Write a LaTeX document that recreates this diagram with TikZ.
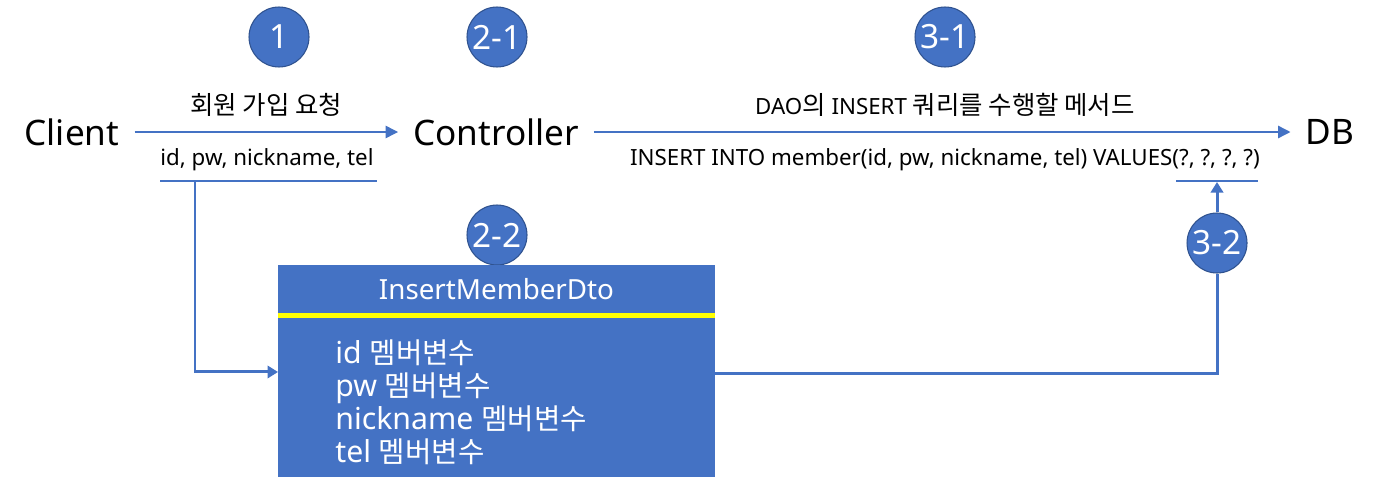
\documentclass[tikz,border=0pt]{standalone}
\usepackage{fontspec}
\setmainfont{Noto Sans}
\newfontfamily\kr[Scale=1.14]{Noto Sans CJK KR}
\newfontfamily\krfield[Scale=0.95]{Noto Sans CJK KR}
\usetikzlibrary{arrows.meta,positioning}
\definecolor{boxblue}{HTML}{4472C4}
\definecolor{ringblue}{HTML}{2F528F}
\definecolor{baryellow}{HTML}{FFFF00}

\tikzset{
  stepnum/.style={circle, fill=boxblue, draw=ringblue, line width=0.6pt, text=white,
    minimum size=1.2cm, inner sep=0pt, font=\fontsize{19}{22}\selectfont},
  actor/.style={font=\fontsize{20}{24}\selectfont, inner xsep=8.5pt, inner ysep=0pt},
  lbl/.style={font=\fontsize{12.7}{15}\selectfont, inner sep=0pt},
  flow/.style={boxblue, line width=0.8pt, -{Triangle[length=7pt,width=7pt]}},
  link/.style={boxblue, line width=1.7pt},
  dtopart/.style={fill=boxblue, text=white, minimum width=8.74cm, inner sep=0pt, outer sep=0pt},
}

\begin{document}
\begin{tikzpicture}[x=0.02cm, y=-0.02cm]
  \useasboundingbox (0,0) rectangle (1378,490);

  % main participants
  \node[actor] (client) at (72,132) {Client};
  \node[actor] (ctrl) at (496,132) {Controller};
  \node[actor] (db) at (1330,132) {DB};
  \draw[flow] (client) -- (ctrl);
  \draw[flow] (ctrl) -- (db);

  % step markers
  \node[stepnum] (s1) at (279,37) {1};
  \node[stepnum] (s21) at (497,37) {2-1};
  \node[stepnum] (s31) at (945,37) {3-1};
  \node[stepnum] (s22) at (497,235) {2-2};
  \node[stepnum] (s32) at (1217,243) {3-2};

  % arrow labels
  \node[lbl] (req) at (266,105) {\kr 회원 가입 요청};
  \node[lbl] (params) at (267,160) {id, pw, nickname, tel};
  \node[lbl] (method) at (945,105) {DAO{\kr 의} INSERT {\kr 쿼리를 수행할 메서드}};
  \node[lbl] (query) at (945,160) {INSERT INTO member(id, pw, nickname, tel) VALUES(?, ?, ?, ?)};

  % dto box
  \node[dtopart, minimum height=0.96cm, font=\fontsize{15.8}{18}\selectfont] (dtohead) at (496.5,289) {InsertMemberDto};
  \node[fill=baryellow, minimum width=8.74cm, minimum height=0.1cm, inner sep=0pt, outer sep=0pt,
    below=0pt of dtohead] (bar) {};
  \node[dtopart, minimum height=3.18cm, below=0pt of bar] (dtobody) {};
  \node[anchor=west, text=white, align=left, inner sep=0pt,
    font=\fontsize{17.2}{18.7}\selectfont] (fields) at (335,402)
    {id {\krfield 멤버변수}\\pw {\krfield 멤버변수}\\nickname {\krfield 멤버변수}\\tel {\krfield 멤버변수}};

  % underlines and links
  \coordinate (ul1a) at (160,181);
  \coordinate (ul1b) at (377,181);
  \coordinate (ul2a) at (1176,181);
  \coordinate (ul2b) at (1258,181);
  \coordinate (tap1) at (195,181);
  \coordinate (tap2) at (1217,182);
  \draw[link] (ul1a) -- (ul1b);
  \draw[link] (ul2a) -- (ul2b);
  \draw[link, -{Triangle[length=6pt,width=7pt]}] (tap1) |- ([yshift=0.51cm]dtobody.west);
  \draw[link] ([yshift=0.47cm]dtobody.east) -| (s32.south);
  \draw[link, -{Triangle[length=6pt,width=7pt]}] (s32.north) -- (tap2);
\end{tikzpicture}
\end{document}
